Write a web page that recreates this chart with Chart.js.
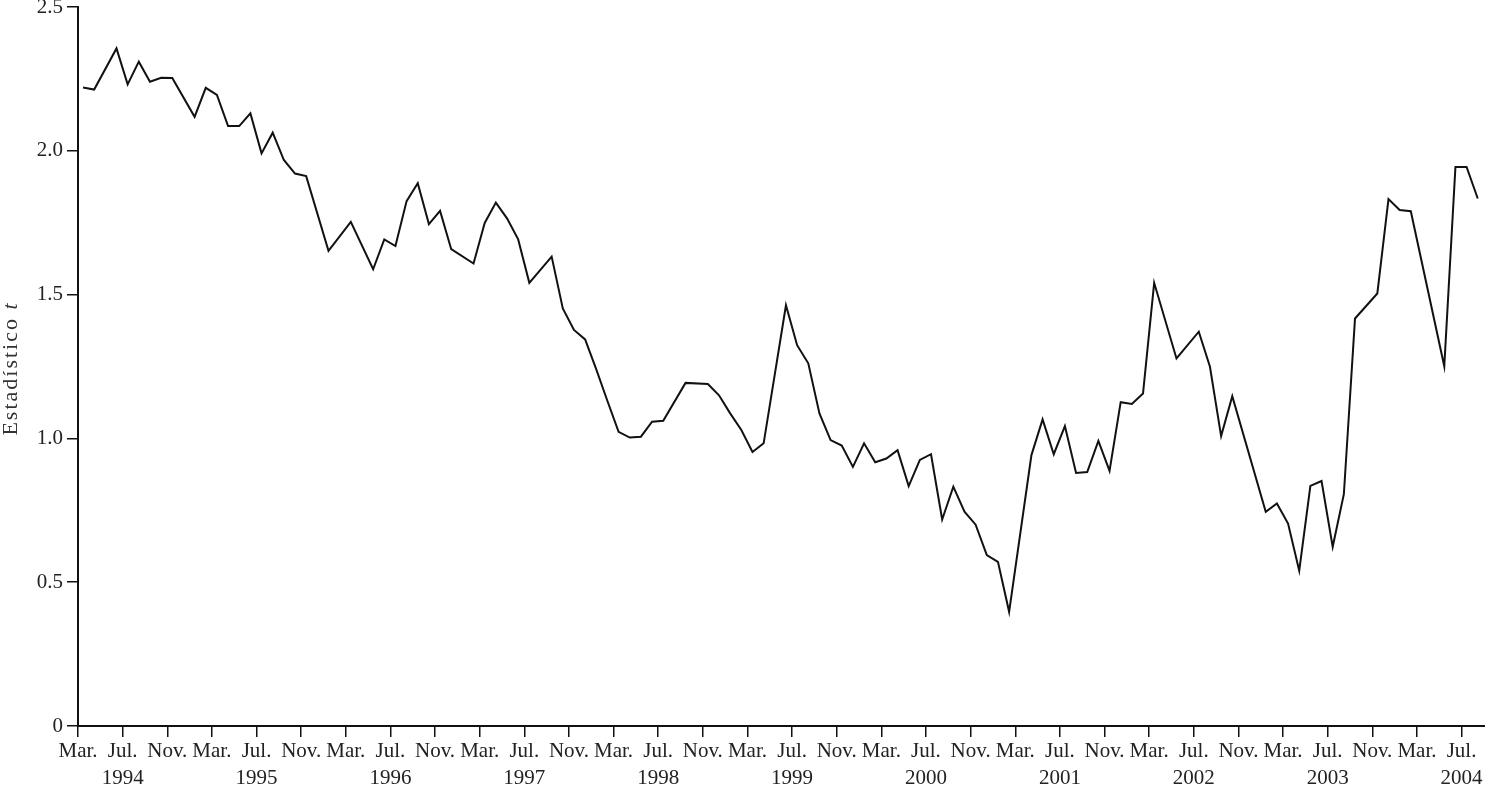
<!DOCTYPE html>
<html><head><meta charset="utf-8">
<script src="https://cdn.jsdelivr.net/npm/chart.js@4/dist/chart.umd.min.js"></script>
<style>html,body{margin:0;padding:0;background:#fff;}#wrap{width:1485px;height:788px;}</style>
</head><body><div id="wrap"><canvas id="c" width="1485" height="788"></canvas></div>
<script>
// Month index: 0 = Mar. 1994, 1 = Apr. 1994, ...
const monthIndex = [0,1,3,4,5,6,7,8,10,11,12,13,14,15,16,17,18,19,20,22,24,26,27,28,29,30,31,32,33,35,36,37,38,39,40,42,43,44,45,46,47,48,49,50,51,52,54,56,57,58,59,60,61,63,64,65,66,67,68,69,70,71,72,73,74,75,76,77,78,79,80,81,82,83,85,86,87,88,89,90,91,92,93,94,95,96,98,100,101,102,103,106,107,108,109,110,111,112,113,114,116,117,118,119,122,123,124,125];
const tStat = [2.22,2.213,2.356,2.231,2.31,2.24,2.254,2.253,2.118,2.219,2.194,2.086,2.086,2.13,1.991,2.063,1.968,1.921,1.912,1.652,1.753,1.588,1.692,1.669,1.825,1.887,1.745,1.791,1.658,1.608,1.749,1.82,1.765,1.692,1.541,1.632,1.452,1.377,1.344,1.24,1.13,1.023,1.003,1.006,1.058,1.061,1.193,1.189,1.15,1.087,1.029,0.953,0.983,1.463,1.324,1.261,1.087,0.994,0.975,0.901,0.983,0.917,0.93,0.959,0.834,0.925,0.945,0.718,0.832,0.745,0.70,0.594,0.571,0.397,0.942,1.066,0.945,1.043,0.88,0.883,0.991,0.887,1.126,1.12,1.156,1.541,1.278,1.371,1.249,1.008,1.147,0.745,0.774,0.704,0.54,0.835,0.852,0.623,0.806,1.417,1.504,1.832,1.794,1.79,1.251,1.944,1.944,1.834];
const tickMonthNames = ['Mar.','Jul.','Nov.'];
const firstYear = 1994;
const yTickValues = [0,0.5,1,1.5,2,2.5];
const yTitle = 'Estadístico ';
const yTitleItalic = 't';

const pointOffset = 0.45; // observations sit mid-month
const FONT = '"Liberation Serif", "Times New Roman", serif';

const points = monthIndex.map((m, i) => ({x: m + pointOffset, y: tStat[i]}));

const yTitlePlugin = {
  id: 'yTitle',
  afterDraw(chart) {
    const ctx = chart.ctx, a = chart.chartArea;
    ctx.save();
    ctx.fillStyle = '#333';
    ctx.textBaseline = 'middle';
    if ('letterSpacing' in ctx) ctx.letterSpacing = '2px';
    const fN = '22px ' + FONT, fI = 'italic 22px ' + FONT;
    ctx.font = fN; const w1 = ctx.measureText(yTitle).width;
    ctx.font = fI; const w2 = ctx.measureText(yTitleItalic).width;
    ctx.translate(11, (a.top + a.bottom) / 2 + 2);
    ctx.rotate(-Math.PI / 2);
    const x0 = -(w1 + w2) / 2;
    ctx.textAlign = 'left';
    ctx.font = fN; ctx.fillText(yTitle, x0, 0);
    ctx.font = fI; ctx.fillText(yTitleItalic, x0 + w1, 0);
    ctx.restore();
  }
};

new Chart(document.getElementById('c'), {
  type: 'line',
  data: { datasets: [{ data: points, borderColor: '#111', borderWidth: 2, pointRadius: 0, tension: 0, fill: false }] },
  options: {
    responsive: false, animation: false,
    layout: { padding: { top: 7, right: 0, left: 0, bottom: 0 } },
    plugins: { legend: { display: false }, tooltip: { enabled: false } },
    scales: {
      x: {
        type: 'linear', min: 0, max: 126.1,
        border: { display: true, color: '#111', width: 2 },
        grid: { drawOnChartArea: false, drawTicks: true, tickLength: 11, color: '#111', lineWidth: 1.5 },
        afterBuildTicks(scale) {
          const t = [];
          for (let v = 0; v <= 124; v += 4) t.push({ value: v });
          scale.ticks = t;
        },
        afterFit(scale) { scale.height = 62; scale.paddingLeft = 0; scale.paddingRight = 0; },
        ticks: {
          autoSkip: false, maxRotation: 0, minRotation: 0, padding: 1,
          color: '#222', font: { family: FONT, size: 21, lineHeight: 1.3 },
          callback(v) {
            const i = Math.round(v / 4) % 3;
            const name = tickMonthNames[i];
            if (i === 1) return [name, String(firstYear + Math.floor((v + 2) / 12))];
            return name;
          }
        }
      },
      y: {
        min: 0, max: 2.5,
        border: { display: true, color: '#111', width: 2 },
        grid: { drawOnChartArea: false, drawTicks: true, tickLength: 11, color: '#111', lineWidth: 1.5 },
        afterBuildTicks(scale) { scale.ticks = yTickValues.map(v => ({ value: v })); },
        afterFit(scale) { scale.width = 78; scale.paddingTop = 0; scale.paddingBottom = 0; },
        ticks: {
          padding: 4, color: '#222', font: { family: FONT, size: 21 },
          callback(v) { return v === 0 ? '0' : v.toFixed(1); }
        }
      }
    }
  },
  plugins: [yTitlePlugin]
});
</script></body></html>
